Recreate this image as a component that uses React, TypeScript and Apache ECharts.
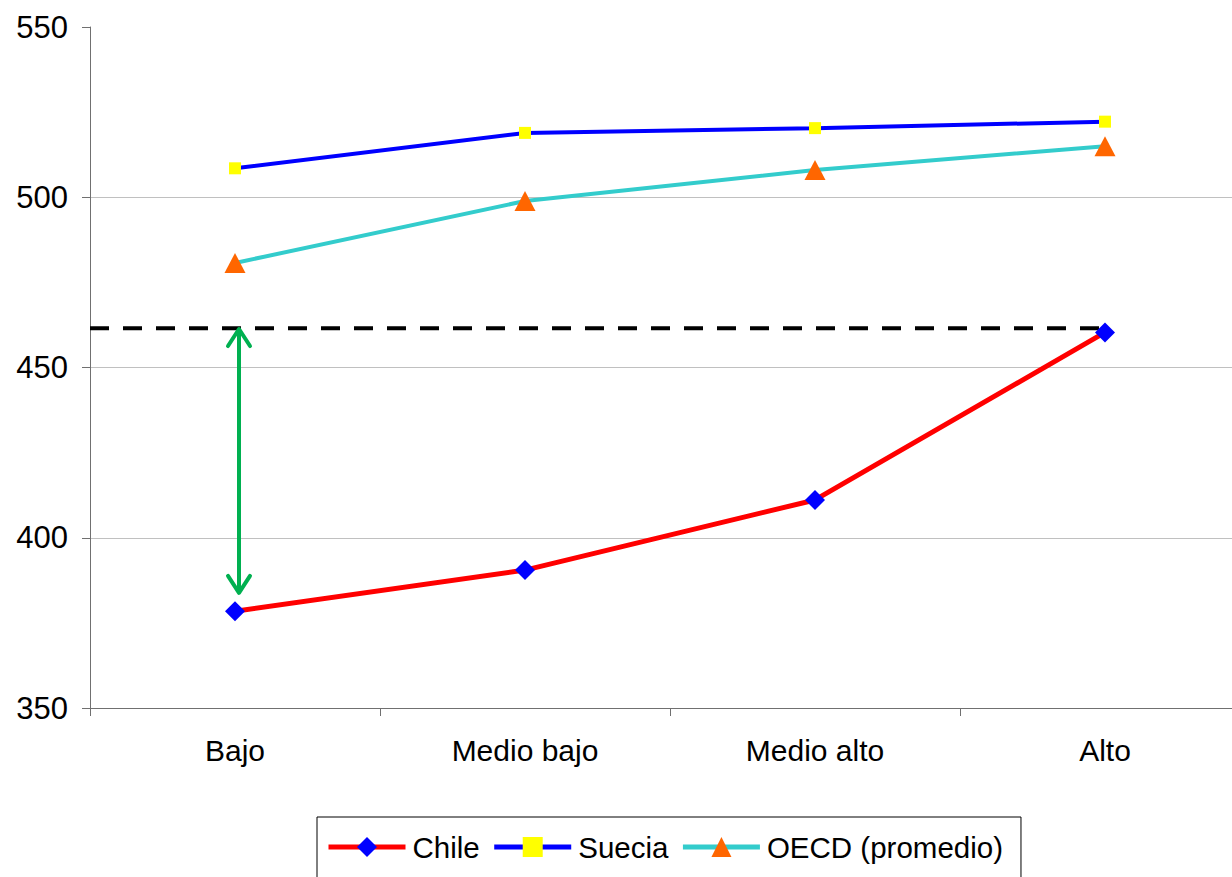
import React, { useEffect, useRef } from "react";
import * as echarts from "echarts";

const categories = ["Bajo", "Medio bajo", "Medio alto", "Alto"];
const chile = [378.4, 390.5, 411.1, 460.3];
const suecia = [508.5, 518.9, 520.3, 522.2];
const oecd = [480.7, 498.9, 508.0, 515.0];
const referenceLevel = 461.5; // dashed line (Chile "Alto")
const gapArrow = [461.3, 383.8]; // green double arrow at "Bajo"
const yTicks = [350, 400, 450, 500, 550];

const FONT = "'Liberation Sans', Arial, sans-serif";

export default function App() {
  const ref = useRef<HTMLDivElement>(null);
  useEffect(() => {
    if (!ref.current) return;
    const chart = echarts.init(ref.current, undefined, { renderer: "svg" });
    chart.setOption({
      animation: false,
      backgroundColor: "#ffffff",
      textStyle: { fontFamily: FONT },
      grid: { left: 90, top: 27, right: 0, bottom: 169 },
      legend: {
        data: ["Chile", "Suecia", "OECD (promedio)"],
        left: 317,
        top: 817,
        orient: "horizontal",
        itemWidth: 77,
        itemHeight: 25,
        itemGap: 12,
        padding: [15, 18, 30, 9],
        borderColor: "#000000",
        borderWidth: 1,
        lineStyle: { width: 5 },
        textStyle: { fontFamily: FONT, fontSize: 29.5, color: "#000", padding: [0, 0, 0, 2] },
      },
      xAxis: {
        type: "category",
        data: categories,
        boundaryGap: true,
        axisLine: { lineStyle: { color: "#707070", width: 1 } },
        axisTick: { show: true, inside: false, length: 8, lineStyle: { color: "#707070" } },
        axisLabel: { fontSize: 30, color: "#000", margin: 27, fontFamily: FONT },
        splitLine: { show: false },
      },
      yAxis: {
        type: "value",
        min: yTicks[0],
        max: yTicks[yTicks.length - 1],
        interval: 50,
        axisLine: { show: true, lineStyle: { color: "#707070", width: 1 } },
        axisTick: { show: true, length: 8, lineStyle: { color: "#707070" } },
        axisLabel: { fontSize: 31, color: "#000", margin: 22, fontFamily: FONT },
        splitLine: {
          show: true,
          lineStyle: { color: ["#c0c0c0", "#c0c0c0", "#c0c0c0", "#c0c0c0", "rgba(0,0,0,0)"], width: 1 },
        },
      },
      series: [
        {
          type: "custom",
          name: "ref",
          z: 1,
          silent: true,
          data: [[0, categories.length - 1, referenceLevel]],
          renderItem: (params: any, api: any) => {
            const band = api.size([1, 0])[0];
            const p0 = api.coord([api.value(0), api.value(2)]);
            const p1 = api.coord([api.value(1), api.value(2)]);
            return {
              type: "line",
              shape: { x1: p0[0] - band / 2, y1: p0[1], x2: p1[0], y2: p1[1] },
              style: { stroke: "#000000", lineWidth: 4, lineDash: [19, 14] },
            };
          },
        },
        {
          type: "custom",
          name: "gap",
          z: 3,
          silent: true,
          data: [[0, gapArrow[0], gapArrow[1]]],
          renderItem: (params: any, api: any) => {
            const top = api.coord([api.value(0), api.value(1)]);
            const bot = api.coord([api.value(0), api.value(2)]);
            const x = top[0] + 4;
            const h = 17;
            const w = 11;
            const style = { stroke: "#00b050", lineWidth: 4, fill: "none", lineCap: "round", lineJoin: "round" };
            return {
              type: "group",
              children: [
                { type: "line", shape: { x1: x, y1: top[1] + 2, x2: x, y2: bot[1] - 2 }, style },
                { type: "polyline", shape: { points: [[x - w, top[1] + h], [x, top[1]], [x + w, top[1] + h]] }, style },
                { type: "polyline", shape: { points: [[x - w, bot[1] - h], [x, bot[1]], [x + w, bot[1] - h]] }, style },
              ],
            };
          },
        },
        {
          name: "Chile",
          type: "line",
          z: 4,
          data: chile,
          symbol: "diamond",
          symbolSize: 20,
          lineStyle: { color: "#ff0000", width: 5 },
          itemStyle: { color: "#0000ff" },
        },
        {
          name: "Suecia",
          type: "line",
          z: 4,
          data: suecia,
          symbol: "rect",
          symbolSize: 12,
          lineStyle: { color: "#0000ff", width: 4 },
          itemStyle: { color: "#ffff00" },
        },
        {
          name: "OECD (promedio)",
          type: "line",
          z: 4,
          data: oecd,
          symbol: "triangle",
          symbolSize: [21, 20],
          lineStyle: { color: "#33cccc", width: 4 },
          itemStyle: { color: "#ff6600" },
        },
      ],
    });
    return () => chart.dispose();
  }, []);
  return (
    <div style={{ position: "fixed", left: 0, top: 0, width: 1232, height: 877, overflow: "hidden", background: "#fff" }}>
      <div ref={ref} style={{ width: 1250, height: 877 }} />
    </div>
  );
}
